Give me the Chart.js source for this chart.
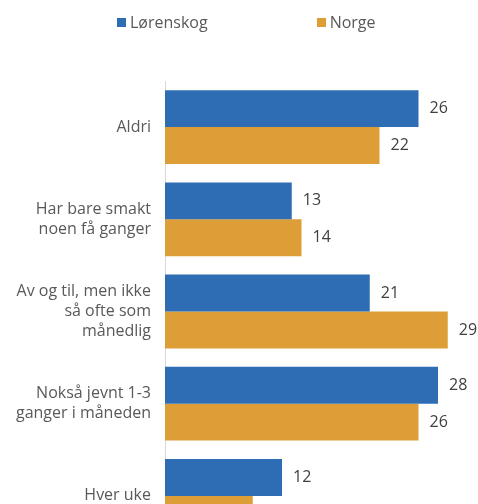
<!DOCTYPE html>
<html>
<head>
<meta charset="utf-8">
<script src="https://cdn.jsdelivr.net/npm/chart.js@4/dist/chart.umd.min.js"></script>
<style>
  html, body { margin: 0; padding: 0; background: #fff; overflow: hidden; }
  #wrap { position: relative; width: 478px; height: 504px; overflow: hidden; }
  #legend { position: absolute; top: 11px; left: 117px; display: flex; font-family: "Open Sans", sans-serif; font-size: 16px; color: #595959; z-index: 2; }
  #legend .item { display: flex; align-items: center; margin-right: 109px; }
  #legend .box { width: 9px; height: 9px; margin-right: 4px; }
  canvas { position: absolute; top: 0; left: 0; }
</style>
</head>
<body>
<div id="wrap">
  <div id="legend"></div>
  <canvas id="chart" width="478" height="542"></canvas>
</div>
<script>
const categories = [
    'Aldri',
    ['Har bare smakt', 'noen få ganger'],
    ['Av og til, men ikke', 'så ofte som', 'månedlig'],
    ['Nokså jevnt 1-3', 'ganger i måneden'],
    'Hver uke'
];
const lorenskog = [26, 13, 21, 28, 12];
const norge = [22, 14, 29, 26, 9];

const valueLabels = {
    id: 'valueLabels',
    afterDatasetsDraw(chart) {
        const ctx = chart.ctx;
        ctx.save();
        ctx.font = '16px "Open Sans", sans-serif';
        ctx.fillStyle = '#404040';
        ctx.textAlign = 'left';
        ctx.textBaseline = 'middle';
        chart.data.datasets.forEach((ds, i) => {
            chart.getDatasetMeta(i).data.forEach((bar, j) => {
                ctx.fillText(ds.data[j], bar.x + 11, bar.y);
            });
        });
        ctx.restore();
    }
};

const ctx = document.getElementById('chart').getContext('2d');
const chart = new Chart(ctx, {
    type: 'bar',
    data: {
        labels: categories,
        datasets: [
            { label: 'Lørenskog', data: lorenskog, backgroundColor: '#2e6db4' },
            { label: 'Norge', data: norge, backgroundColor: '#de9e37' }
        ]
    },
    options: {
        indexAxis: 'y',
        responsive: false,
        animation: false,
        layout: { padding: { top: 81, right: 20.5, left: 0, bottom: 0 } },
        categoryPercentage: 0.8,
        barPercentage: 1.0,
        plugins: {
            legend: { display: false },
            tooltip: { enabled: false }
        },
        scales: {
            x: { display: false, min: 0, max: 30 },
            y: {
                afterFit(scale) {
                    scale.width = 165;
                    scale.paddingTop = 0;
                    scale.paddingBottom = 0;
                },
                grid: { display: false, drawTicks: false },
                border: { display: true, color: '#d9d9d9', width: 1 },
                ticks: {
                    padding: 14,
                    color: '#595959',
                    font: { family: '"Open Sans", sans-serif', size: 16, lineHeight: 1.25 }
                }
            }
        }
    },
    plugins: [valueLabels]
});

// legend from the datasets
const legend = document.getElementById('legend');
chart.data.datasets.forEach(ds => {
    const item = document.createElement('div');
    item.className = 'item';
    const box = document.createElement('span');
    box.className = 'box';
    box.style.background = ds.backgroundColor;
    const txt = document.createElement('span');
    txt.textContent = ds.label;
    item.appendChild(box);
    item.appendChild(txt);
    legend.appendChild(item);
});
</script>
</body>
</html>
